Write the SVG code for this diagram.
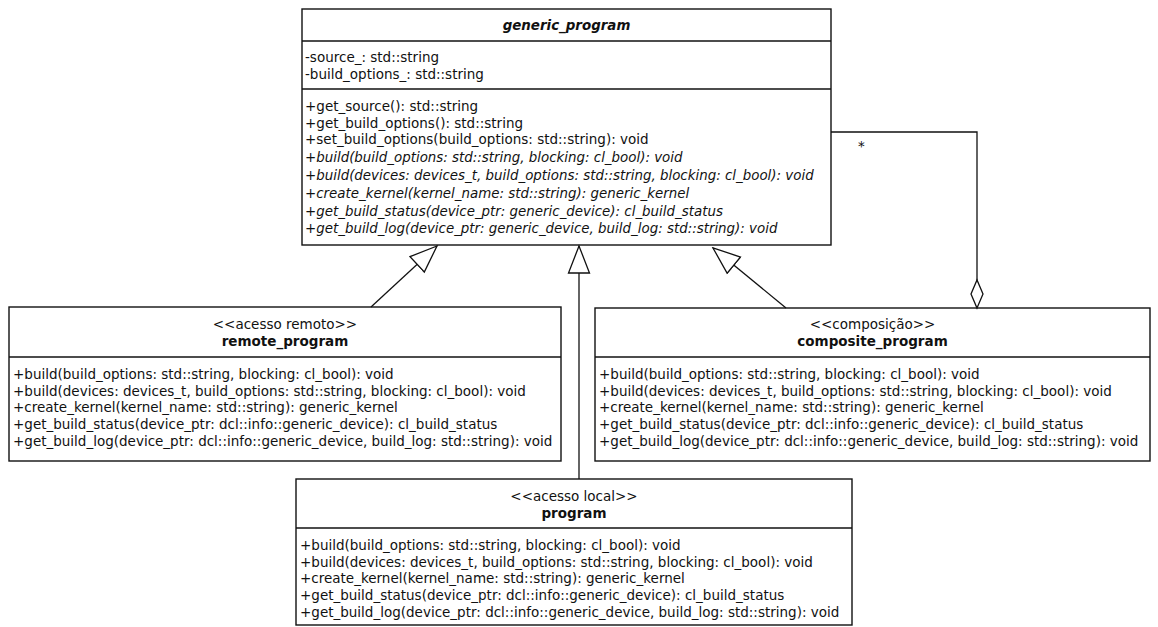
<svg xmlns="http://www.w3.org/2000/svg" width="1158" height="627" viewBox="0 0 1158 627">
  <style>
    .box { fill: #ffffff; stroke: #111111; stroke-width: 1.4; }
    .div { stroke: #111111; stroke-width: 1.4; }
    .edge { fill: none; stroke: #111111; stroke-width: 1.3; }
    text { font-family: "DejaVu Sans", "Liberation Sans", sans-serif; font-size: 13.5px; fill: #111111; }
    .abs { font-style: italic; font-size: 13.4px; }
    .name { font-weight: bold; text-anchor: middle; }
    .stereo { text-anchor: middle; }
  </style>
  <defs>
    <marker id="gen" markerUnits="userSpaceOnUse" markerWidth="30" markerHeight="24" viewBox="-28 -12 30 24" refX="0" refY="0" orient="auto">
      <path d="M0,0 L-27,-10.5 L-27,10.5 Z" fill="#ffffff" stroke="#111111" stroke-width="1.3"/>
    </marker>
    <marker id="agg" markerUnits="userSpaceOnUse" markerWidth="32" markerHeight="16" viewBox="-30 -8 32 16" refX="0" refY="0" orient="auto">
      <path d="M0,0 L-14,-6 L-28,0 L-14,6 Z" fill="#ffffff" stroke="#111111" stroke-width="1.3"/>
    </marker>
  </defs>

  <!-- abstract base class -->
  <g id="generic_program">
    <rect class="box" x="302" y="9" width="529" height="236"/>
    <line class="div" x1="302" y1="41" x2="831" y2="41"/>
    <line class="div" x1="302" y1="89" x2="831" y2="89"/>
    <text class="name abs" x="566.5" y="30">generic_program</text>
    <text x="305" y="62">-source_: std::string</text>
    <text x="305" y="78.7">-build_options_: std::string</text>
    <text x="305" y="111">+get_source(): std::string</text>
    <text x="305" y="127.7">+get_build_options(): std::string</text>
    <text x="305" y="144.4">+set_build_options(build_options: std::string): void</text>
    <text class="abs" x="305" y="162.2">+build(build_options: std::string, blocking: cl_bool): void</text>
    <text class="abs" x="305" y="180">+build(devices: devices_t, build_options: std::string, blocking: cl_bool): void</text>
    <text class="abs" x="305" y="197.8">+create_kernel(kernel_name: std::string): generic_kernel</text>
    <text class="abs" x="305" y="215.6">+get_build_status(device_ptr: generic_device): cl_build_status</text>
    <text class="abs" x="305" y="233.4">+get_build_log(device_ptr: generic_device, build_log: std::string): void</text>
  </g>

  <g id="remote_program">
    <rect class="box" x="9" y="307" width="552" height="154"/>
    <line class="div" x1="9" y1="357" x2="561" y2="357"/>
    <text class="stereo" x="285" y="329">&lt;&lt;acesso remoto&gt;&gt;</text>
    <text class="name" x="285" y="346">remote_program</text>
    <text x="13" y="379">+build(build_options: std::string, blocking: cl_bool): void</text>
    <text x="13" y="395.7">+build(devices: devices_t, build_options: std::string, blocking: cl_bool): void</text>
    <text x="13" y="412.4">+create_kernel(kernel_name: std::string): generic_kernel</text>
    <text x="13" y="429.1">+get_build_status(device_ptr: dcl::info::generic_device): cl_build_status</text>
    <text x="13" y="445.8">+get_build_log(device_ptr: dcl::info::generic_device, build_log: std::string): void</text>
  </g>

  <g id="composite_program">
    <rect class="box" x="595" y="308" width="555" height="153"/>
    <line class="div" x1="595" y1="357" x2="1150" y2="357"/>
    <text class="stereo" x="872.5" y="329">&lt;&lt;composição&gt;&gt;</text>
    <text class="name" x="872.5" y="346">composite_program</text>
    <text x="599" y="379">+build(build_options: std::string, blocking: cl_bool): void</text>
    <text x="599" y="395.7">+build(devices: devices_t, build_options: std::string, blocking: cl_bool): void</text>
    <text x="599" y="412.4">+create_kernel(kernel_name: std::string): generic_kernel</text>
    <text x="599" y="429.1">+get_build_status(device_ptr: dcl::info::generic_device): cl_build_status</text>
    <text x="599" y="445.8">+get_build_log(device_ptr: dcl::info::generic_device, build_log: std::string): void</text>
  </g>

  <g id="program">
    <rect class="box" x="296" y="479" width="556" height="146"/>
    <line class="div" x1="296" y1="528" x2="852" y2="528"/>
    <text class="stereo" x="574" y="501">&lt;&lt;acesso local&gt;&gt;</text>
    <text class="name" x="574" y="518">program</text>
    <text x="300" y="550">+build(build_options: std::string, blocking: cl_bool): void</text>
    <text x="300" y="566.7">+build(devices: devices_t, build_options: std::string, blocking: cl_bool): void</text>
    <text x="300" y="583.4">+create_kernel(kernel_name: std::string): generic_kernel</text>
    <text x="300" y="600.1">+get_build_status(device_ptr: dcl::info::generic_device): cl_build_status</text>
    <text x="300" y="616.8">+get_build_log(device_ptr: dcl::info::generic_device, build_log: std::string): void</text>
  </g>

  <!-- generalizations and the aggregation back to the base -->
  <g id="connectors">
    <line class="edge" x1="371" y1="307" x2="437" y2="246" marker-end="url(#gen)"/>
    <line class="edge" x1="786" y1="308" x2="713" y2="248" marker-end="url(#gen)"/>
    <line class="edge" x1="579" y1="479" x2="579" y2="246" marker-end="url(#gen)"/>
    <path class="edge" d="M831,132 H977 V308" marker-end="url(#agg)"/>
    <text x="858" y="151">*</text>
  </g>
</svg>
